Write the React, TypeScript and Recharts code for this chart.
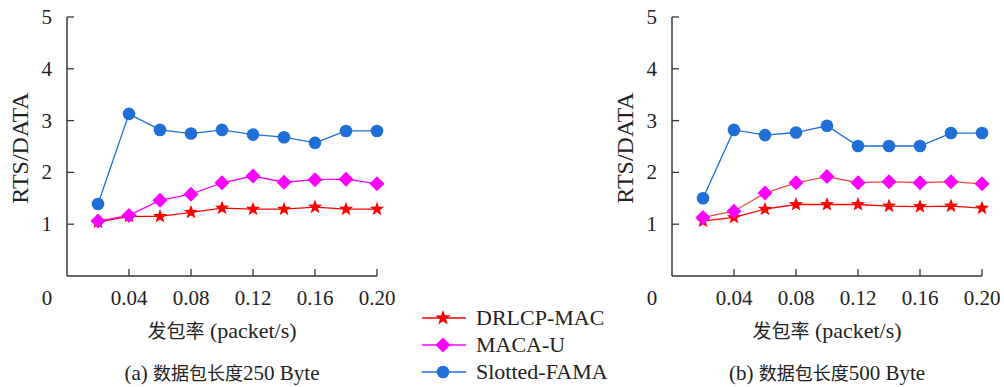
import React from 'react'
import { LineChart, Line, XAxis, YAxis } from 'recharts'

const rates = [0.02, 0.04, 0.06, 0.08, 0.1, 0.12, 0.14, 0.16, 0.18, 0.2]
const xTicks = [0, 0.04, 0.08, 0.12, 0.16, 0.2]
const yTicks = [1, 2, 3, 4, 5]

// (a) 250 Byte
const drlcp250 = [1.04, 1.15, 1.15, 1.23, 1.31, 1.29, 1.29, 1.33, 1.29, 1.29]
const macau250 = [1.06, 1.17, 1.46, 1.58, 1.8, 1.93, 1.81, 1.86, 1.87, 1.78]
const fama250 = [1.39, 3.13, 2.82, 2.75, 2.82, 2.73, 2.68, 2.57, 2.8, 2.8]

// (b) 500 Byte
const drlcp500 = [1.06, 1.13, 1.29, 1.38, 1.38, 1.38, 1.35, 1.34, 1.35, 1.31]
const macau500 = [1.13, 1.25, 1.6, 1.8, 1.92, 1.8, 1.82, 1.8, 1.82, 1.78]
const fama500 = [1.5, 2.82, 2.72, 2.77, 2.9, 2.51, 2.51, 2.51, 2.76, 2.76]

const seriesNames = ['DRLCP-MAC', 'MACA-U', 'Slotted-FAMA']

const RED = '#ff0000'
const MAGENTA = '#ff00ff'
const BLUE = '#1f6fd6'
const AXIS = '#3b3431'
const FONT = '"Liberation Serif", "Noto Sans CJK SC", serif'

const buildRows = (a: number[], b: number[], c: number[]) =>
  rates.map((r, i) => ({ rate: r, drlcp: a[i], macau: b[i], fama: c[i] }))

const Star = ({ cx, cy, r = 7.5, color = RED }: any) => {
  const pts: string[] = []
  for (let i = 0; i < 10; i++) {
    const rad = i % 2 === 0 ? r : r * 0.42
    const a = -Math.PI / 2 + (i * Math.PI) / 5
    pts.push(`${cx + rad * Math.cos(a)},${cy + rad * Math.sin(a)}`)
  }
  return <polygon points={pts.join(' ')} fill={color} />
}

const Diamond = ({ cx, cy, r = 7.5, color = MAGENTA }: any) => (
  <polygon points={`${cx},${cy - r} ${cx + r},${cy} ${cx},${cy + r} ${cx - r},${cy}`} fill={color} />
)

const Dot = ({ cx, cy, r = 6.3, color = BLUE }: any) => <circle cx={cx} cy={cy} r={r} fill={color} />

const YTick = ({ x, y, payload }: any) => (
  <g>
    <line x1={x} x2={x + 7} y1={y} y2={y} stroke={AXIS} strokeWidth={1.3} />
    <text x={x - 15} y={y + 7} textAnchor="end" fontSize={21} fill="#222" fontFamily={FONT}>
      {payload.value}
    </text>
  </g>
)

const XTick = ({ x, y, payload }: any) => {
  const zero = payload.value === 0
  return (
    <g>
      {!zero && <line x1={x} x2={x} y1={y} y2={y - 7} stroke={AXIS} strokeWidth={1.3} />}
      <text x={zero ? x - 20 : x} y={y + 29} textAnchor="middle" fontSize={21} fill="#222" fontFamily={FONT}>
        {zero ? '0' : payload.value.toFixed(2)}
      </text>
    </g>
  )
}

function Panel({ rows, macaLine }: { rows: any[]; macaLine: string }) {
  return (
    <LineChart width={400} height={320} data={rows} margin={{ top: 17, right: 23, bottom: 20, left: 0 }}>
      <XAxis
        dataKey="rate"
        type="number"
        domain={[0, 0.2]}
        ticks={xTicks}
        height={24}
        tickSize={0}
        tickMargin={0}
        tick={<XTick />}
        axisLine={{ stroke: AXIS, strokeWidth: 1.5 }}
        tickLine={false}
      />
      <XAxis xAxisId="top" orientation="top" type="number" domain={[0, 0.2]} height={0} tick={false} tickLine={false} axisLine={{ stroke: AXIS, strokeWidth: 1.5 }} />
      <YAxis
        type="number"
        domain={[0, 5]}
        ticks={yTicks}
        width={67}
        tickSize={0}
        tickMargin={0}
        tick={<YTick />}
        axisLine={{ stroke: AXIS, strokeWidth: 1.5 }}
        tickLine={false}
      />
      <YAxis yAxisId="right" orientation="right" domain={[0, 5]} width={0} tick={false} tickLine={false} axisLine={{ stroke: AXIS, strokeWidth: 1.5 }} />
      <Line
        dataKey="drlcp"
        stroke={RED}
        strokeWidth={1.3}
        isAnimationActive={false}
        dot={(p: any) => <Star key={p.index} cx={p.cx} cy={p.cy} />}
      />
      <Line
        dataKey="macau"
        stroke={macaLine}
        strokeWidth={1.3}
        isAnimationActive={false}
        dot={(p: any) => <Diamond key={p.index} cx={p.cx} cy={p.cy} />}
      />
      <Line
        dataKey="fama"
        stroke={BLUE}
        strokeWidth={1.3}
        isAnimationActive={false}
        dot={(p: any) => <Dot key={p.index} cx={p.cx} cy={p.cy} />}
      />
    </LineChart>
  )
}

const textStyle: React.CSSProperties = {
  position: 'absolute',
  fontFamily: FONT,
  color: '#222',
  whiteSpace: 'nowrap',
  transform: 'translate(-50%, -50%)',
  lineHeight: 1,
}

const cjk = (size: number): React.CSSProperties => ({ fontSize: size, fontFamily: '"Noto Sans CJK SC", sans-serif' })

function LegendBox() {
  const markers = [
    (cx: number, cy: number) => <Star cx={cx} cy={cy} r={8} />,
    (cx: number, cy: number) => <Diamond cx={cx} cy={cy} />,
    (cx: number, cy: number) => <Dot cx={cx} cy={cy} />,
  ]
  const colors = [RED, MAGENTA, BLUE]
  return (
    <div style={{ position: 'absolute', left: 420, top: 304 }}>
      {seriesNames.map((name, i) => (
        <div key={name} style={{ display: 'flex', alignItems: 'center', height: 27 }}>
          <svg width={48} height={20}>
            <line x1={2} x2={46} y1={10} y2={10} stroke={colors[i]} strokeWidth={1.5} />
            {markers[i](23, 10)}
          </svg>
          <span style={{ marginLeft: 8, fontFamily: FONT, fontSize: 22, color: '#222' }}>{name}</span>
        </div>
      ))}
    </div>
  )
}

export default function App() {
  return (
    <div style={{ position: 'absolute', left: 0, top: 0, width: 1004, height: 387, background: '#fff', overflow: 'hidden' }}>
      <div style={{ position: 'absolute', left: 0, top: 0 }}>
        <Panel rows={buildRows(drlcp250, macau250, fama250)} macaLine={MAGENTA} />
      </div>
      <div style={{ position: 'absolute', left: 605, top: 0 }}>
        <Panel rows={buildRows(drlcp500, macau500, fama500)} macaLine="#f04848" />
      </div>

      <div style={{ ...textStyle, left: 20, top: 148, fontSize: 24, transform: 'translate(-50%, -50%) rotate(-90deg)' }}>RTS/DATA</div>
      <div style={{ ...textStyle, left: 625, top: 148, fontSize: 24, transform: 'translate(-50%, -50%) rotate(-90deg)' }}>RTS/DATA</div>

      <div style={{ ...textStyle, left: 222, top: 331, fontSize: 22 }}>
        <span style={cjk(19)}>发包率</span> (packet/s)
      </div>
      <div style={{ ...textStyle, left: 827, top: 331, fontSize: 22 }}>
        <span style={cjk(19)}>发包率</span> (packet/s)
      </div>

      <div style={{ ...textStyle, left: 222, top: 373, fontSize: 21 }}>
        (a) <span style={cjk(18)}>数据包长度</span>250 Byte
      </div>
      <div style={{ ...textStyle, left: 827, top: 373, fontSize: 21 }}>
        (b) <span style={cjk(18)}>数据包长度</span>500 Byte
      </div>

      <LegendBox />
    </div>
  )
}
